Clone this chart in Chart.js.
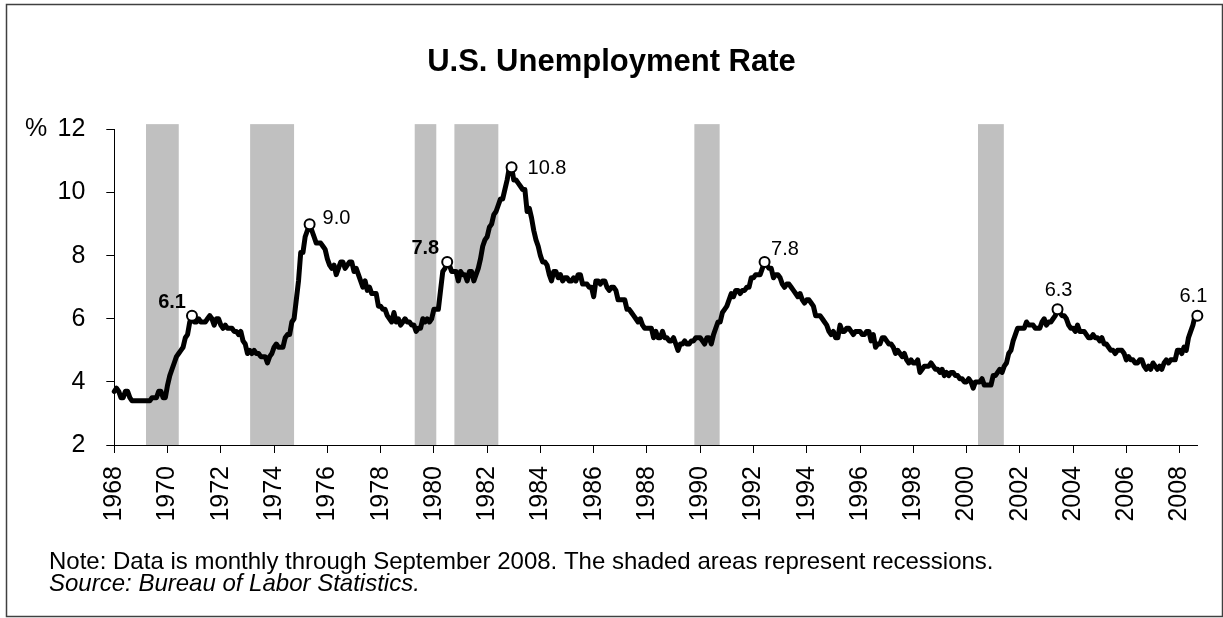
<!DOCTYPE html>
<html>
<head>
<meta charset="utf-8">
<title>U.S. Unemployment Rate</title>
<script src="https://cdn.jsdelivr.net/npm/chart.js@4.4.1/dist/chart.umd.min.js"></script>
<style>
  html, body { margin: 0; padding: 0; background: #fff; }
  canvas { display: block; }
</style>
</head>
<body>
<canvas id="myChart" width="1223" height="618"></canvas>
<script>
// Безработица в США, помесячно, янв 1968 - сен 2008 (%)
let startYear = 1968;
let rate = [
  3.7, 3.8, 3.7, 3.5, 3.5, 3.7, 3.7, 3.5, 3.4, 3.4, 3.4, 3.4, // 1968
  3.4, 3.4, 3.4, 3.4, 3.4, 3.5, 3.5, 3.5, 3.7, 3.7, 3.5, 3.5, // 1969
  3.9, 4.2, 4.4, 4.6, 4.8, 4.9, 5.0, 5.1, 5.4, 5.5, 5.9, 6.1, // 1970
  5.9, 5.9, 6.0, 5.9, 5.9, 5.9, 6.0, 6.1, 6.0, 5.8, 6.0, 6.0, // 1971
  5.8, 5.7, 5.8, 5.7, 5.7, 5.7, 5.6, 5.6, 5.5, 5.6, 5.3, 5.2, // 1972
  4.9, 5.0, 4.9, 5.0, 4.9, 4.9, 4.8, 4.8, 4.8, 4.6, 4.8, 4.9, // 1973
  5.1, 5.2, 5.1, 5.1, 5.1, 5.4, 5.5, 5.5, 5.9, 6.0, 6.6, 7.2, // 1974
  8.1, 8.1, 8.6, 8.8, 9.0, 8.8, 8.6, 8.4, 8.4, 8.4, 8.3, 8.2, // 1975
  7.9, 7.7, 7.6, 7.7, 7.4, 7.6, 7.8, 7.8, 7.6, 7.7, 7.8, 7.8, // 1976
  7.5, 7.6, 7.4, 7.2, 7.0, 7.2, 6.9, 7.0, 6.8, 6.8, 6.8, 6.4, // 1977
  6.4, 6.3, 6.3, 6.1, 6.0, 5.9, 6.2, 5.9, 6.0, 5.8, 5.9, 6.0, // 1978
  5.9, 5.9, 5.8, 5.8, 5.6, 5.7, 5.7, 6.0, 5.9, 6.0, 5.9, 6.0, // 1979
  6.3, 6.3, 6.3, 6.9, 7.5, 7.6, 7.8, 7.7, 7.5, 7.5, 7.5, 7.2, // 1980
  7.5, 7.4, 7.4, 7.2, 7.5, 7.5, 7.2, 7.4, 7.6, 7.9, 8.3, 8.5, // 1981
  8.6, 8.9, 9.0, 9.3, 9.4, 9.6, 9.8, 9.8, 10.1, 10.4, 10.8, 10.8, // 1982
  10.4, 10.4, 10.3, 10.2, 10.1, 10.1, 9.4, 9.5, 9.2, 8.8, 8.5, 8.3, // 1983
  8.0, 7.8, 7.8, 7.7, 7.4, 7.2, 7.5, 7.5, 7.3, 7.4, 7.2, 7.3, // 1984
  7.3, 7.2, 7.2, 7.3, 7.2, 7.4, 7.4, 7.1, 7.1, 7.1, 7.0, 7.0, // 1985
  6.7, 7.2, 7.2, 7.1, 7.2, 7.2, 7.0, 6.9, 7.0, 7.0, 6.9, 6.6, // 1986
  6.6, 6.6, 6.6, 6.3, 6.3, 6.2, 6.1, 6.0, 5.9, 6.0, 5.8, 5.7, // 1987
  5.7, 5.7, 5.7, 5.4, 5.6, 5.4, 5.4, 5.6, 5.4, 5.4, 5.3, 5.3, // 1988
  5.4, 5.2, 5.0, 5.2, 5.2, 5.3, 5.2, 5.2, 5.3, 5.3, 5.4, 5.4, // 1989
  5.4, 5.3, 5.2, 5.4, 5.4, 5.2, 5.5, 5.7, 5.9, 5.9, 6.2, 6.3, // 1990
  6.4, 6.6, 6.8, 6.7, 6.9, 6.9, 6.8, 6.9, 6.9, 7.0, 7.0, 7.3, // 1991
  7.3, 7.4, 7.4, 7.4, 7.6, 7.8, 7.7, 7.6, 7.6, 7.3, 7.4, 7.4, // 1992
  7.3, 7.1, 7.0, 7.1, 7.1, 7.0, 6.9, 6.8, 6.7, 6.8, 6.6, 6.5, // 1993
  6.6, 6.6, 6.5, 6.4, 6.1, 6.1, 6.1, 6.0, 5.9, 5.8, 5.6, 5.5, // 1994
  5.6, 5.4, 5.4, 5.8, 5.6, 5.6, 5.7, 5.7, 5.6, 5.5, 5.6, 5.6, // 1995
  5.6, 5.5, 5.5, 5.6, 5.6, 5.3, 5.5, 5.1, 5.2, 5.2, 5.4, 5.4, // 1996
  5.3, 5.2, 5.2, 5.1, 4.9, 5.0, 4.9, 4.8, 4.9, 4.7, 4.6, 4.7, // 1997
  4.6, 4.6, 4.7, 4.3, 4.4, 4.5, 4.5, 4.5, 4.6, 4.5, 4.4, 4.4, // 1998
  4.3, 4.4, 4.2, 4.3, 4.2, 4.3, 4.3, 4.2, 4.2, 4.1, 4.1, 4.0, // 1999
  4.0, 4.1, 4.0, 3.8, 4.0, 4.0, 4.0, 4.1, 3.9, 3.9, 3.9, 3.9, // 2000
  4.2, 4.2, 4.3, 4.4, 4.3, 4.5, 4.6, 4.9, 5.0, 5.3, 5.5, 5.7, // 2001
  5.7, 5.7, 5.7, 5.9, 5.8, 5.8, 5.8, 5.7, 5.7, 5.7, 5.9, 6.0, // 2002
  5.8, 5.9, 5.9, 6.0, 6.1, 6.3, 6.2, 6.1, 6.1, 6.0, 5.8, 5.7, // 2003
  5.7, 5.6, 5.8, 5.6, 5.6, 5.6, 5.5, 5.4, 5.4, 5.5, 5.4, 5.4, // 2004
  5.3, 5.4, 5.2, 5.2, 5.1, 5.0, 5.0, 4.9, 5.0, 5.0, 5.0, 4.9, // 2005
  4.7, 4.8, 4.7, 4.7, 4.6, 4.6, 4.7, 4.7, 4.5, 4.4, 4.5, 4.4, // 2006
  4.6, 4.5, 4.4, 4.5, 4.4, 4.6, 4.7, 4.6, 4.7, 4.7, 4.7, 5.0, // 2007
  5.0, 4.9, 5.1, 5.0, 5.4, 5.6, 5.8, 6.1, 6.1                 // 2008
];

// Рецессии (серые полосы), в годах, как на картинке
let recessionStart = [1969.19, 1973.10, 1979.28, 1980.77, 1989.78, 2000.43];
let recessionEnd   = [1970.42, 1974.75, 1980.09, 1982.42, 1990.73, 2001.40];
let recessionTop = 12.17;

// Отмеченные точки
let peakYears  = [1970, 1975, 1980, 1982, 1992, 2003, 2008];
let peakMonths = [12, 5, 7, 12, 6, 6, 9];
let peakValues = [6.1, 9.0, 7.8, 10.8, 7.8, 6.3, 6.1];
let peakLabels = ['6.1', '9.0', '7.8', '10.8', '7.8', '6.3', '6.1'];

// Подписи осей
let yearTicks  = [1968, 1970, 1972, 1974, 1976, 1978, 1980, 1982, 1984, 1986, 1988,
                  1990, 1992, 1994, 1996, 1998, 2000, 2002, 2004, 2006, 2008];
let yearLabels = ['1968', '1970', '1972', '1974', '1976', '1978', '1980', '1982', '1984', '1986', '1988',
                  '1990', '1992', '1994', '1996', '1998', '2000', '2002', '2004', '2006', '2008'];
let rateTicks  = [2, 4, 6, 8, 10, 12];
let rateLabels = ['2', '4', '6', '8', '10', '12'];

// Оформление подписей у точек (сдвиг в пикселях)
let peakLabelAlign = ['right', 'left', 'right', 'left', 'left', 'center', 'center'];
let peakLabelDx    = [-6, 13, -8, 16, 6.5, 1, -4];
let peakLabelDy    = [-8, 0, -8.5, 7, -7, -13, -14];
let peakLabelBold  = [true, false, true, false, false, false, false];

let fontFamily = '"Liberation Sans", Arial, sans-serif';
Chart.defaults.font.family = fontFamily;

let lineData = rate.map((v, i) => ({x: startYear + i / 12, y: v}));
let peakData = peakYears.map((yr, i) => ({x: yr + (peakMonths[i] - 1) / 12, y: peakValues[i]}));

// Серые полосы рецессий под осями
let recessionPlugin = {
    id: 'recessions',
    beforeDraw(chart) {
        let c = chart.ctx, xs = chart.scales.x, ys = chart.scales.y;
        let top = ys.getPixelForValue(recessionTop);
        let bottom = ys.getPixelForValue(ys.min);
        c.save();
        c.fillStyle = '#c0c0c0';
        recessionStart.forEach((s, i) => {
            let x1 = xs.getPixelForValue(s);
            let x2 = xs.getPixelForValue(recessionEnd[i]);
            c.fillRect(x1, top, x2 - x1, bottom - top);
        });
        c.restore();
    }
};

// Подписи, примечание, рамка
let textPlugin = {
    id: 'texts',
    afterDraw(chart) {
        let c = chart.ctx, xs = chart.scales.x, ys = chart.scales.y;
        c.save();
        c.fillStyle = '#000';

        // знак процента у оси
        c.font = '25px ' + fontFamily;
        c.textAlign = 'left';
        c.textBaseline = 'middle';
        c.fillText('%', 25, ys.getPixelForValue(12));

        // значения у точек
        c.textBaseline = 'alphabetic';
        peakData.forEach((p, i) => {
            c.font = (peakLabelBold[i] ? 'bold ' : '') + '20px ' + fontFamily;
            c.textAlign = peakLabelAlign[i];
            c.fillText(peakLabels[i], xs.getPixelForValue(p.x) + peakLabelDx[i], ys.getPixelForValue(p.y) + peakLabelDy[i]);
        });

        // примечание и источник
        c.textAlign = 'left';
        c.font = '24px ' + fontFamily;
        c.fillText('Note: Data is monthly through September 2008. The shaded areas represent recessions.', 49, 568.5);
        c.font = 'italic 24px ' + fontFamily;
        c.fillText('Source: Bureau of Labor Statistics.', 49, 591);

        // рамка
        c.strokeStyle = '#404040';
        c.lineWidth = 1.5;
        c.strokeRect(6.5, 4.5, 1216, 612);
        c.restore();
    }
};

let ctx = document.getElementById('myChart').getContext('2d');
let chart = new Chart(ctx, {
    type: 'line',
    data: {
        datasets: [{
            label: 'Peaks',
            data: peakData,
            showLine: false,
            pointRadius: 5,
            pointBackgroundColor: '#fff',
            pointBorderColor: '#000',
            pointBorderWidth: 2,
            clip: false,
            order: 0
        }, {
            label: 'Unemployment rate',
            data: lineData,
            borderColor: '#000',
            borderWidth: 5,
            borderJoinStyle: 'round',
            borderCapStyle: 'round',
            pointRadius: 0,
            tension: 0,
            fill: false,
            clip: false,
            order: 1
        }]
    },
    options: {
        responsive: false,
        animation: false,
        events: [],
        layout: {padding: {left: 24.7, right: 24.7, top: 0, bottom: 93}},
        plugins: {
            legend: {display: false},
            tooltip: {enabled: false},
            title: {
                display: true,
                text: 'U.S. Unemployment Rate',
                color: '#000',
                font: {size: 31, weight: 'bold'},
                padding: {top: 44, bottom: 48.3}
            }
        },
        scales: {
            x: {
                type: 'linear',
                min: startYear,
                max: 2008 + 8 / 12,
                afterBuildTicks: s => { s.ticks = yearTicks.map(v => ({value: v})); },
                afterFit: s => { s.height = 80; },
                grid: {drawOnChartArea: false, drawTicks: true, tickLength: 8, color: '#000'},
                border: {display: true, color: '#000', width: 1},
                ticks: {
                    color: '#000', font: {size: 25}, padding: 13,
                    minRotation: 90, maxRotation: 90, autoSkip: false,
                    callback: (v, i) => yearLabels[i]
                }
            },
            y: {
                min: 2,
                max: 12,
                afterBuildTicks: s => { s.ticks = rateTicks.map(v => ({value: v})); },
                afterFit: s => { s.width = 89.6; },
                grid: {drawOnChartArea: false, drawTicks: true, tickLength: 8, color: '#000'},
                border: {display: true, color: '#000', width: 1},
                ticks: {
                    color: '#000', font: {size: 25}, padding: 21,
                    callback: (v, i) => rateLabels[i]
                }
            }
        }
    },
    plugins: [recessionPlugin, textPlugin]
});
</script>
</body>
</html>
